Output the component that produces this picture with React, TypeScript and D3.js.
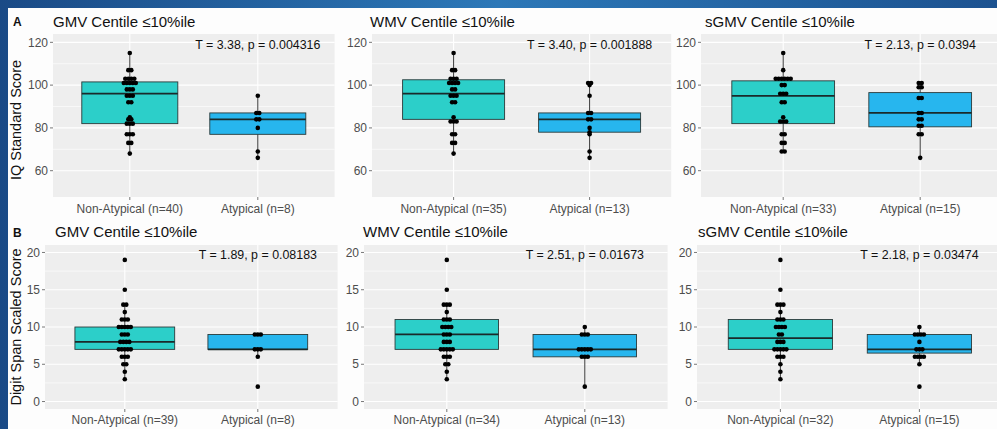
import React from 'react';
import * as d3 from 'd3';

// categories and labels
const groups = ['Non-Atypical', 'Atypical'];
const measures = ['GMV', 'WMV', 'sGMV'];
const nRowA = [[40, 8], [35, 13], [33, 15]];
const nRowB = [[39, 8], [34, 13], [32, 15]];
const statsRowA = ['T = 3.38, p = 0.004316', 'T = 3.40, p = 0.001888', 'T = 2.13, p = 0.0394'];
const statsRowB = ['T = 1.89, p = 0.08183', 'T = 2.51, p = 0.01673', 'T = 2.18, p = 0.03474'];
const ticksA = [60, 80, 100, 120];
const ticksB = [0, 5, 10, 15, 20];

// box stats: [lower whisker, q1, median, q3, upper whisker]
const iqBoxes = [
  [[68, 82, 96, 101.5, 115], [66, 77, 84, 87, 95]],
  [[68, 84, 96, 102.5, 115], [66, 78, 84, 87, 101]],
  [[68.5, 82, 95, 102, 115], [66, 80.5, 87, 96.5, 101]],
];
const dsBoxes = [
  [[3, 7, 8, 10, 13], [6, 7, 7, 9, 9]],
  [[3, 7, 9, 11, 13], [2, 6, 7, 9, 10]],
  [[3, 7, 8.5, 11, 13], [5, 6.5, 7, 9, 10]],
];

// IQ standard score points
const iqGmvNon = [115, 107, 107, 103, 103, 103, 103, 101, 101, 101, 101, 101, 98, 98, 98, 95, 95, 95, 92, 92, 85, 84, 84, 82, 82, 82, 77, 77, 77, 73, 73, 68];
const iqGmvAty = [95, 87, 87, 84, 84, 80, 69, 66];
const iqWmvNon = [115, 107, 107, 103, 103, 103, 101, 101, 101, 101, 98, 98, 95, 95, 95, 92, 92, 85, 83, 83, 83, 77, 77, 73, 73, 68];
const iqWmvAty = [101, 101, 100, 95, 87, 87, 84, 84, 80, 78, 77, 69, 66];
const iqSgmvNon = [115, 107, 103, 103, 103, 103, 103, 103, 100, 100, 96, 96, 96, 92, 92, 85, 83, 83, 83, 77, 77, 73, 73, 69, 69];
const iqSgmvAty = [101, 101, 99, 99, 94, 94, 87, 87, 84, 84, 81, 81, 77, 77, 66];

// digit span scaled score points
const dsGmvNon = [19, 15, 13, 13, 12, 11, 11, 11, 10, 10, 10, 10, 10, 9, 9, 9, 8, 8, 8, 8, 7, 7, 7, 7, 7, 6, 6, 6, 5, 5, 4, 3];
const dsGmvAty = [9, 9, 9, 7, 7, 7, 6, 2];
const dsWmvNon = [19, 15, 13, 13, 13, 12, 11, 11, 11, 10, 10, 10, 10, 9, 9, 9, 8, 8, 8, 7, 7, 7, 7, 7, 6, 6, 6, 5, 5, 4, 3];
const dsWmvAty = [10, 9, 9, 9, 7, 7, 7, 7, 7, 6, 6, 6, 2];
const dsSgmvNon = [19, 15, 13, 13, 13, 12, 11, 11, 11, 10, 10, 10, 10, 9, 9, 8, 8, 8, 7, 7, 7, 7, 7, 6, 6, 6, 5, 4, 3];
const dsSgmvAty = [10, 9, 9, 9, 9, 8, 7, 7, 7, 6, 6, 6, 6, 5, 2];

const iqPoints = [[iqGmvNon, iqGmvAty], [iqWmvNon, iqWmvAty], [iqSgmvNon, iqSgmvAty]];
const dsPoints = [[dsGmvNon, dsGmvAty], [dsWmvNon, dsWmvAty], [dsSgmvNon, dsSgmvAty]];

const FONT = '"Liberation Sans", Arial, sans-serif';
const fills = ['#2ccfc9', '#27b6ee'];

interface PanelProps {
  left: number;
  step: number;
  top: number;
  bottom: number;
  domain: [number, number];
  ticks: number[];
  boxes: number[][];
  points: number[][];
  ns: number[];
  stat: string;
  statY: number;
  title: string;
  titleX: number;
  titleY: number;
  labelY: number;
}

const Panel = ({ left, step, top, bottom, domain, ticks, boxes, points, ns, stat, statY, title, titleX, titleY, labelY }: PanelProps) => {
  const right = left + step * 2.2;
  const x = d3.scalePoint<string>().domain(groups).range([left, right]).padding(0.6);
  const y = d3.scaleLinear().domain(domain).range([bottom, top]);
  const boxW = step * 0.75;
  const minor = ticks.slice(0, -1).map((t, i) => (t + ticks[i + 1]) / 2);
  const dot = 3;

  return (
    <g>
      <rect x={left} y={top} width={right - left} height={bottom - top} fill="#eeeeee" />
      {minor.map(t => (
        <line key={'m' + t} x1={left} x2={right} y1={y(t)} y2={y(t)} stroke="#fff" strokeWidth={0.6} />
      ))}
      {ticks.map(t => (
        <line key={'g' + t} x1={left} x2={right} y1={y(t)} y2={y(t)} stroke="#fff" strokeWidth={1.1} />
      ))}
      {groups.map(g => (
        <line key={'v' + g} x1={x(g)} x2={x(g)} y1={top} y2={bottom} stroke="#fff" strokeWidth={1.1} />
      ))}
      {ticks.map(t => (
        <g key={'t' + t}>
          <line x1={left - 3} x2={left} y1={y(t)} y2={y(t)} stroke="#555" strokeWidth={0.8} />
          <text x={left - 5} y={y(t)} dy="0.35em" textAnchor="end" fontSize={12} fill="#4d4d4d" fontFamily={FONT}>{t}</text>
        </g>
      ))}
      {groups.map((g, gi) => {
        const cx = x(g)!;
        const [lo, q1, med, q3, hi] = boxes[gi];
        const counts = d3.rollups(points[gi], v => v.length, v => v);
        return (
          <g key={g}>
            <line x1={cx} x2={cx} y1={bottom} y2={bottom + 3} stroke="#555" strokeWidth={0.8} />
            <text x={cx} y={labelY} textAnchor="middle" fontSize={12} fill="#4d4d4d" fontFamily={FONT}>{`${g} (n=${ns[gi]})`}</text>
            <line x1={cx} x2={cx} y1={y(hi)} y2={y(lo)} stroke="#222" strokeWidth={0.9} />
            <rect x={cx - boxW / 2} y={y(q3)} width={boxW} height={y(q1) - y(q3)} fill={fills[gi]} stroke="#2a3a3a" strokeWidth={0.9} />
            <line x1={cx - boxW / 2} x2={cx + boxW / 2} y1={y(med)} y2={y(med)} stroke="#1a2a2a" strokeWidth={1.8} />
            {counts.map(([val, k]) =>
              d3.range(k).map(i => (
                <circle key={val + '-' + i} cx={cx + (i - (k - 1) / 2) * dot} cy={y(val)} r={2.3} fill="#000" />
              ))
            )}
          </g>
        );
      })}
      <text x={x(groups[1])} y={statY} dy="0.35em" textAnchor="middle" fontSize={12.4} fill="#111" fontFamily={FONT}>{stat}</text>
      <text x={titleX} y={titleY} fontSize={15} fill="#111" fontFamily={FONT}>{title}</text>
    </g>
  );
};

const App = () => {
  const W = 997;
  const H = 429;
  const leftsA = [53, 372, 701];
  const stepsA = [128, 136, 137];
  const leftsB = [45, 364, 697];
  const stepsB = [133, 138, 139];
  const titleXA = [53, 370, 705];
  const titleXB = [55, 363, 698];

  return (
    <div style={{ position: 'fixed', left: 0, top: 0, width: W, height: H, overflow: 'hidden' }}>
      <svg width={W} height={H} style={{ display: 'block' }}>
        <defs>
          <linearGradient id="frame" x1="0" x2="1" y1="0" y2="0">
            <stop offset="0" stopColor="#1a4a86" />
            <stop offset="0.5" stopColor="#2c78b8" />
            <stop offset="1" stopColor="#1c5290" />
          </linearGradient>
        </defs>
        <rect x={0} y={0} width={W} height={H} fill="url(#frame)" />
        <rect x={8} y={8} width={W - 8} height={H - 8} fill="#fdfdfd" />

        <text x={13} y={26} fontSize={12} fontWeight="bold" fill="#111" fontFamily={FONT}>A</text>
        <text x={13} y={237} fontSize={12} fontWeight="bold" fill="#111" fontFamily={FONT}>B</text>
        <text transform="translate(21,120) rotate(-90)" textAnchor="middle" fontSize={14.5} fill="#111" fontFamily={FONT}>IQ Standard Score</text>
        <text transform="translate(21,327) rotate(-90)" textAnchor="middle" fontSize={14.5} fill="#111" fontFamily={FONT}>Digit Span Scaled Score</text>

        {measures.map((m, i) => (
          <Panel
            key={'A' + m}
            left={leftsA[i]}
            step={stepsA[i]}
            top={34}
            bottom={197}
            domain={[47.7, 123.9]}
            ticks={ticksA}
            boxes={iqBoxes[i]}
            points={iqPoints[i]}
            ns={nRowA[i]}
            stat={statsRowA[i]}
            statY={45}
            title={`${m} Centile ≤10%ile`}
            titleX={titleXA[i]}
            titleY={27}
            labelY={213}
          />
        ))}
        {measures.map((m, i) => (
          <Panel
            key={'B' + m}
            left={leftsB[i]}
            step={stepsB[i]}
            top={245}
            bottom={409}
            domain={[-1, 21]}
            ticks={ticksB}
            boxes={dsBoxes[i]}
            points={dsPoints[i]}
            ns={nRowB[i]}
            stat={statsRowB[i]}
            statY={255}
            title={`${m} Centile ≤10%ile`}
            titleX={titleXB[i]}
            titleY={237}
            labelY={424}
          />
        ))}
      </svg>
    </div>
  );
};

export default App;
